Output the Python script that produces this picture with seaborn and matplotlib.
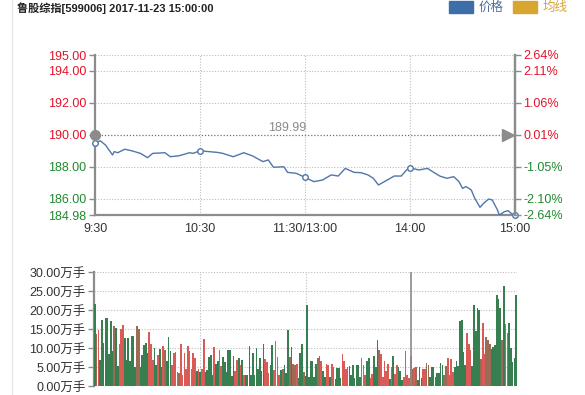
import numpy as np
import pandas as pd
import matplotlib
matplotlib.use("Agg")
import matplotlib.pyplot as plt
from matplotlib.lines import Line2D
from matplotlib.patches import Rectangle
import seaborn as sns

# ---------------- data ----------------
title = "鲁股综指[599006] 2017-11-23 15:00:00"
prev_close = 189.99
time_ticks = [0, 60, 120, 180, 240]
time_labels = ["9:30", "10:30", "11:30/13:00", "14:00", "15:00"]
price_ticks = [184.98, 186.00, 188.00, 190.00, 192.00, 194.00, 195.00]
vol_ticks = [0, 5, 10, 15, 20, 25, 30]

minute_idx = [0, 3, 6, 10, 11, 13, 17, 21, 26, 30, 33, 40, 43, 48, 54, 56, 60, 65, 70, 73,
              79, 85, 90, 96, 99, 102, 108, 110, 115, 120, 125, 130, 135, 139, 143, 148,
              152, 156, 159, 162, 167, 171, 175, 178, 180, 185, 190, 193, 197, 201, 205,
              208, 210, 212, 215, 217, 220, 222, 225, 227, 230, 231, 234, 236, 239, 240]
price = [189.47, 189.63, 189.36, 188.74, 188.95, 188.88, 189.10, 189.00, 188.84, 188.57,
         188.84, 188.88, 188.63, 188.69, 188.88, 188.84, 189.00, 188.95, 188.90, 188.84,
         188.63, 188.88, 188.68, 188.32, 188.43, 187.97, 188.00, 187.65, 187.59, 187.34,
         187.07, 187.17, 187.49, 187.42, 187.90, 187.65, 187.63, 187.49, 187.28, 186.86,
         187.17, 187.42, 187.42, 187.80, 187.94, 187.80, 187.90, 187.69, 187.42, 187.28,
         187.38, 187.07, 186.65, 186.76, 186.55, 186.03, 185.46, 185.71, 185.98, 185.92,
         185.29, 184.98, 185.19, 185.25, 184.98, 184.98]

volume = [
    21.7, 13.8, 14.7, 6.8, 17.3, 11.4, 18.0, 17.9, 8.5, 17.0,
    9.2, 15.7, 15.3, 5.3, 11.0, 14.9, 16.0, 12.7, 6.8, 12.7,
    6.6, 13.1, 13.1, 5.0, 15.7, 15.1, 5.0, 8.1, 10.9, 11.4,
    8.8, 14.3, 11.0, 6.8, 9.9, 5.5, 8.1, 9.7, 5.0, 10.5,
    9.4, 6.6, 12.8, 9.2, 5.5, 8.8, 9.0, 3.8, 3.5, 11.0,
    2.9, 8.6, 4.4, 10.5, 9.2, 4.6, 8.6, 7.5, 3.9, 4.6,
    3.8,
    4.5, 12.3, 3.6, 4.2, 7.7, 8.1, 2.9, 10.3, 5.8, 6.6,
    9.4, 5.2, 7.7, 6.4, 3.8, 9.4, 9.4, 2.7, 7.9, 4.0,
    6.8, 7.3, 5.5, 6.8, 2.9, 2.9, 2.9, 10.5, 2.9, 8.8,
    2.9, 10.1, 4.6, 7.4, 3.9, 11.0, 7.0, 6.2, 3.3, 5.5,
    10.9, 4.2, 11.8, 7.7, 2.9, 4.2, 4.6, 5.5, 3.5, 14.7,
    7.7, 10.3, 5.8, 5.5, 5.9, 2.0, 8.6, 11.0, 3.6, 2.7,
    21.3, 2.5, 6.5, 6.5, 2.5, 5.8, 7.3, 7.8, 6.5, 4.0,
    2.5, 5.7, 5.5, 2.5, 5.8, 5.0, 1.8, 4.8, 4.8, 2.0,
    8.5, 6.5, 4.5, 5.0, 5.3, 3.0, 5.5, 2.0, 5.5, 5.5,
    2.5, 7.3, 5.5, 3.0, 6.5, 7.5, 2.0, 3.2, 8.0, 5.0,
    12.0, 9.5, 8.5, 2.3, 6.5, 4.0, 5.8, 1.8, 5.0, 7.8,
    3.2, 5.5, 5.0, 4.0, 1.5, 2.5, 9.3, 3.0, 2.0, 7.8,
    4.5, 4.8, 5.0, 1.5, 5.0, 2.0, 4.5, 4.5, 6.0, 5.5,
    2.3, 5.0, 5.0, 2.3, 3.3, 3.5, 6.0, 5.5, 3.0, 5.2,
    7.5, 3.0, 7.0, 3.8, 5.0, 6.5, 5.3, 17.0, 17.5, 9.0,
    5.5, 14.0, 11.0, 9.5, 5.3, 21.3, 14.5, 20.5, 20.0, 7.0,
    16.5, 8.3, 12.8, 12.0, 11.0, 9.8, 10.2, 10.8, 24.0, 23.0,
    20.5, 12.0, 26.2, 16.2, 14.0, 16.7, 10.0, 6.2, 7.4, 24.0,
]
direction = list(
    "gbrggggggg" "gbggrrrggg" "ggggbbgggg" "grrrggrggr" "bgggrrrrbr" "rrrrrrrrgr" "g"
    "rrgggggrgg" "rrgggggggr" "rgrgrggggg" "ggggggrrrg" "grrrrgbggg" "bgbbrgggbg"
    "ggggggbbrg" "grrgrrgggg" "rrrrgggggg" "grrrggrrgg" "gbrrrrrgrg" "rrgggrrrrr"
    "brbgggrrbb" "ggggggggbb" "rrrrgggggg" "grrrgggggb" "rrbbbggggg" "gbgrrggggg"
)

# ---------------- style ----------------
sns.set_theme(style="white")
plt.rcParams["font.family"] = ["Liberation Sans", "Noto Sans CJK SC", "DejaVu Sans"]

RED = "#e3142a"
GREEN = "#1f8a2e"
GREY = "#8c8c8c"
LINE = "#5076aa"

W, H = 585, 395
fig = plt.figure(figsize=(W / 100, H / 100), dpi=100)

def fx(px):
    return px / W

def fy(py):
    return 1 - py / H

# ---------------- price panel ----------------
ax1 = fig.add_axes([fx(95), fy(215), fx(515) - fx(95), fy(55) - fy(215)])
ax1.set_xlim(0, 240)
ax1.set_ylim(184.98, 195.0)

for v in [186, 188, 192, 194, 195]:
    ax1.axhline(v, color="#bdbdbd", lw=0.8, ls=(0, (1, 1.5)), zorder=0)
for t in [60, 120, 180]:
    ax1.axvline(t, color="#bdbdbd", lw=0.8, ls=(0, (1, 1.5)), zorder=0)
ax1.axhline(prev_close, color="#707070", lw=0.9, ls=(0, (1, 1.5)), zorder=1)

sns.lineplot(x=minute_idx, y=price, color=LINE, lw=1.0, ax=ax1, zorder=3)
mk_x = [m for m in minute_idx if m in time_ticks]
mk_y = [price[minute_idx.index(m)] for m in mk_x]
ax1.plot(mk_x, mk_y, ls="none", marker="o", ms=4, mfc="white", mec=LINE, mew=1.0,
         zorder=4, clip_on=False)
ax1.plot([0], [prev_close], ls="none", marker="o", ms=7, color=GREY, zorder=5, clip_on=False)
ax1.plot([236], [prev_close], ls="none", marker=">", ms=9, color=GREY, zorder=5, clip_on=False)
ax1.text(110, 190.45, f"{prev_close:.2f}", color="#8a8a8a", fontsize=9, ha="center", va="center")

ax1.set_yticks(price_ticks)
ax1.set_yticklabels([f"{v:.2f}" for v in price_ticks], fontsize=9)
for lab, v in zip(ax1.get_yticklabels(), price_ticks):
    lab.set_color(RED if v >= prev_close else GREEN)
ax1.set_xticks(time_ticks)
ax1.set_xticklabels(time_labels, fontsize=9, color="#333333")
ax1.tick_params(axis="x", length=0, pad=6)
ax1.tick_params(axis="y", length=4, width=1, color=GREY, pad=2, direction="out", left=True)

ax1r = ax1.twinx()
ax1r.set_ylim(ax1.get_ylim())
ax1r.set_yticks(price_ticks)
pct = [(v - prev_close) / prev_close * 100 for v in price_ticks]
ax1r.set_yticklabels([f"{p:.2f}%" for p in pct], fontsize=9)
for lab, p in zip(ax1r.get_yticklabels(), pct):
    lab.set_color(RED if p >= 0 else GREEN)
ax1r.tick_params(axis="y", length=4, width=1, color=GREY, pad=2, direction="out", right=True)

for a in (ax1, ax1r):
    a.spines["top"].set_visible(False)
    for s in ("left", "right", "bottom"):
        a.spines[s].set_color(GREY)
        a.spines[s].set_linewidth(1.6)
ax1r.spines["left"].set_visible(False)
ax1r.spines["bottom"].set_visible(False)

# ---------------- volume panel ----------------
ax2 = fig.add_axes([fx(94), fy(386), fx(517) - fx(94), fy(272) - fy(386)])
df = pd.DataFrame({"minute": np.arange(len(volume)), "vol": volume, "dir": direction})
palette = {"r": "#f0463f", "g": "#2b8a4c", "b": "#a8664a"}
sns.barplot(data=df, x="minute", y="vol", hue="dir", palette=palette, native_scale=True,
            dodge=False, width=0.95, errorbar=None, legend=False, linewidth=0, ax=ax2,
            zorder=3)
ax2.set_xlim(-0.5, 240.5)
ax2.set_ylim(0, 30)
for v in vol_ticks[1:]:
    ax2.axhline(v, color="#bdbdbd", lw=0.8, ls=(0, (1, 1.5)), zorder=0)
for t in [60, 120, 240.5]:
    ax2.axvline(t, color="#bdbdbd", lw=0.8, ls=(0, (1, 1.5)), zorder=0)
ax2.axvline(180, color="#8a8a8a", lw=1.2, zorder=4)
ax2.set_yticks(vol_ticks)
ax2.set_yticklabels([f"{v:.2f}万手" for v in vol_ticks], fontsize=9, color="#333333")
ax2.set_xticks([])
ax2.set_xlabel("")
ax2.set_ylabel("")
ax2.tick_params(axis="y", length=4, width=1, color=GREY, pad=2, direction="out", left=True)
for s in ("top", "right", "bottom"):
    ax2.spines[s].set_visible(False)
ax2.spines["left"].set_color(GREY)
ax2.spines["left"].set_linewidth(1.6)

# ---------------- header ----------------
fig.add_artist(Line2D([fx(12), fx(12)], [0, 1], color="#e8e8e8", lw=1))
fig.text(fx(17), fy(8), title, fontsize=8, fontweight="bold", color="#222222",
         ha="left", va="center")
fig.add_artist(Rectangle((fx(449), fy(13)), fx(24), fy(1) - fy(13), color="#3d6ea8",
                         transform=fig.transFigure))
fig.text(fx(479), fy(8), "价格", fontsize=9, color="#4f6b95", ha="left", va="center")
fig.add_artist(Rectangle((fx(513), fy(13)), fx(24), fy(1) - fy(13), color="#d6a630",
                         transform=fig.transFigure))
fig.text(fx(543), fy(8), "均线", fontsize=9, color="#d6a630", ha="left", va="center")

fig.savefig("out.png", dpi=100)
